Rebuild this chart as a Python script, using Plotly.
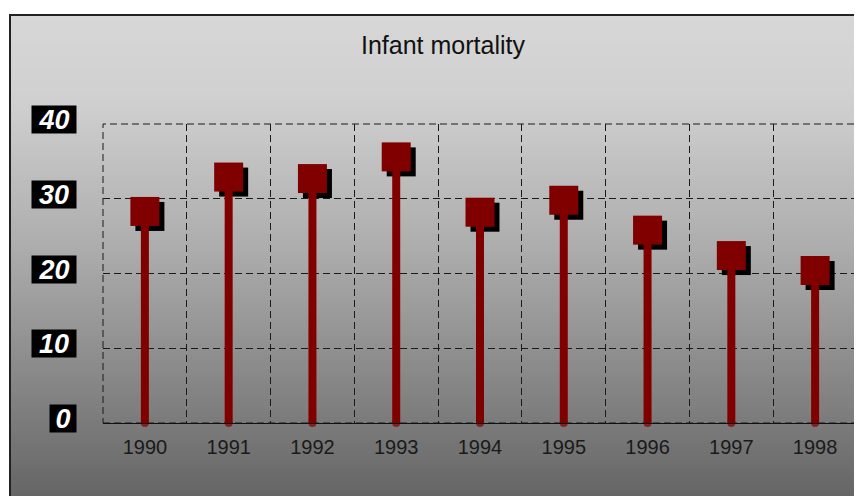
import plotly.graph_objects as go

years = ["1990", "1991", "1992", "1993", "1994", "1995", "1996", "1997", "1998"]
mortality = [28.3, 32.9, 32.7, 35.6, 28.2, 29.8, 25.8, 22.4, 20.4]
y_ticks = [0, 10, 20, 30, 40]
title_text = "Infant mortality"

# the page body has an 8px margin; figure is laid out in screen pixels minus that
OFF = 8
W, H = 862 - OFF, 496 - OFF
L, R, T, B = 103 - OFF, 5, 124 - OFF, 73
PW, PH = W - L - R, H - T - B


def px_x(sx):
    return (sx - OFF - L) / PW


def px_y(sy):
    return (H - B - (sy - OFF)) / PH


# background gradient stops (screen pixel y, grey level)
stops = [(15, 215), (100, 208), (250, 172), (440, 118), (500, 100)]


def grey_at(py):
    for (y0, g0), (y1, g1) in zip(stops[:-1], stops[1:]):
        if y0 <= py <= y1:
            return g0 + (g1 - g0) * (py - y0) / (y1 - y0)
    return stops[-1][1]


shapes = []
step = 3
py = 15
while py < 500:
    g = int(round(grey_at(py + step / 2)))
    shapes.append(dict(type="rect", xref="paper", yref="paper", layer="below",
                       x0=px_x(9), x1=px_x(870), y0=px_y(py + step + 0.5), y1=px_y(py),
                       fillcolor=f"rgb({g},{g},{g})", line=dict(width=0)))
    py += step
# frame
shapes.append(dict(type="rect", xref="paper", yref="paper", layer="below",
                   x0=px_x(10), x1=px_x(875), y0=px_y(510), y1=px_y(15),
                   fillcolor="rgba(0,0,0,0)", line=dict(color="#222222", width=2)))
# dashed border of the plot area (edge gridlines)
shapes.append(dict(type="rect", xref="paper", yref="paper", layer="between",
                   x0=0, x1=1, y0=0, y1=1, fillcolor="rgba(0,0,0,0)",
                   line=dict(color="#1a1a1a", width=1, dash="7px,4px")))

# marker shadows
MS = 29
for i, v in enumerate(mortality):
    shapes.append(dict(type="rect", layer="between",
                       xref="x", xsizemode="pixel", xanchor=i, x0=-MS / 2 + 5, x1=MS / 2 + 5,
                       yref="y", ysizemode="pixel", yanchor=v, y0=-MS / 2 - 5, y1=MS / 2 - 5,
                       fillcolor="black", line=dict(width=0)))

# stems
sx, sy, ss = [], [], []
for yr, v in zip(years, mortality):
    sx += [yr, yr, None]
    sy += [0, v, None]
    ss += [8, 0, 0]

fig = go.Figure()
fig.add_trace(go.Scatter(x=sx, y=sy, mode="lines+markers", cliponaxis=False,
                         line=dict(color="#800000", width=8),
                         marker=dict(size=ss, color="#800000", line=dict(width=0)),
                         hoverinfo="skip", showlegend=False))
fig.add_trace(go.Scatter(x=years, y=mortality, mode="markers", cliponaxis=False,
                         marker=dict(symbol="square", size=MS, color="#800000", line=dict(width=0)),
                         showlegend=False))

annotations = []
for t in y_ticks:
    annotations.append(dict(text=str(t), xref="paper", yref="y", x=px_x(77), y=t,
                            xanchor="right", yanchor="middle", yshift=4.5, showarrow=False,
                            font=dict(family="Arial, Liberation Sans", size=27, color="white",
                                      weight="bold", style="italic"),
                            bgcolor="black", width=44 if t >= 10 else 26, height=27,
                            borderpad=0, align="center"))

fig.update_layout(
    width=W, height=H,
    margin=dict(l=L, r=R, t=T, b=B),
    paper_bgcolor="white",
    plot_bgcolor="rgba(0,0,0,0)",
    shapes=shapes,
    annotations=annotations,
    title=dict(text=title_text, x=(443 - OFF) / W, xanchor="center",
               y=1 - (45 - OFF) / H, yanchor="middle",
               font=dict(family="Arial, Liberation Sans", size=25, color="#111111")),
    xaxis=dict(type="category", categoryorder="array", categoryarray=years,
               range=[-0.5, len(years) - 0.5],
               tickson="boundaries", showgrid=True, griddash="7px,4px",
               gridcolor="#1a1a1a", gridwidth=1, ticks="", showline=True,
               linecolor="#111111", linewidth=1, zeroline=False,
               tickfont=dict(family="Arial, Liberation Sans", size=20, color="#1a1a1a"),
               ticklabelstandoff=6),
    yaxis=dict(range=[0, 40], tickvals=y_ticks, showticklabels=False, showgrid=True,
               griddash="7px,4px", gridcolor="#1a1a1a", gridwidth=1, zeroline=False,
               ticks="", showline=False),
)

fig.write_html("out.html")
